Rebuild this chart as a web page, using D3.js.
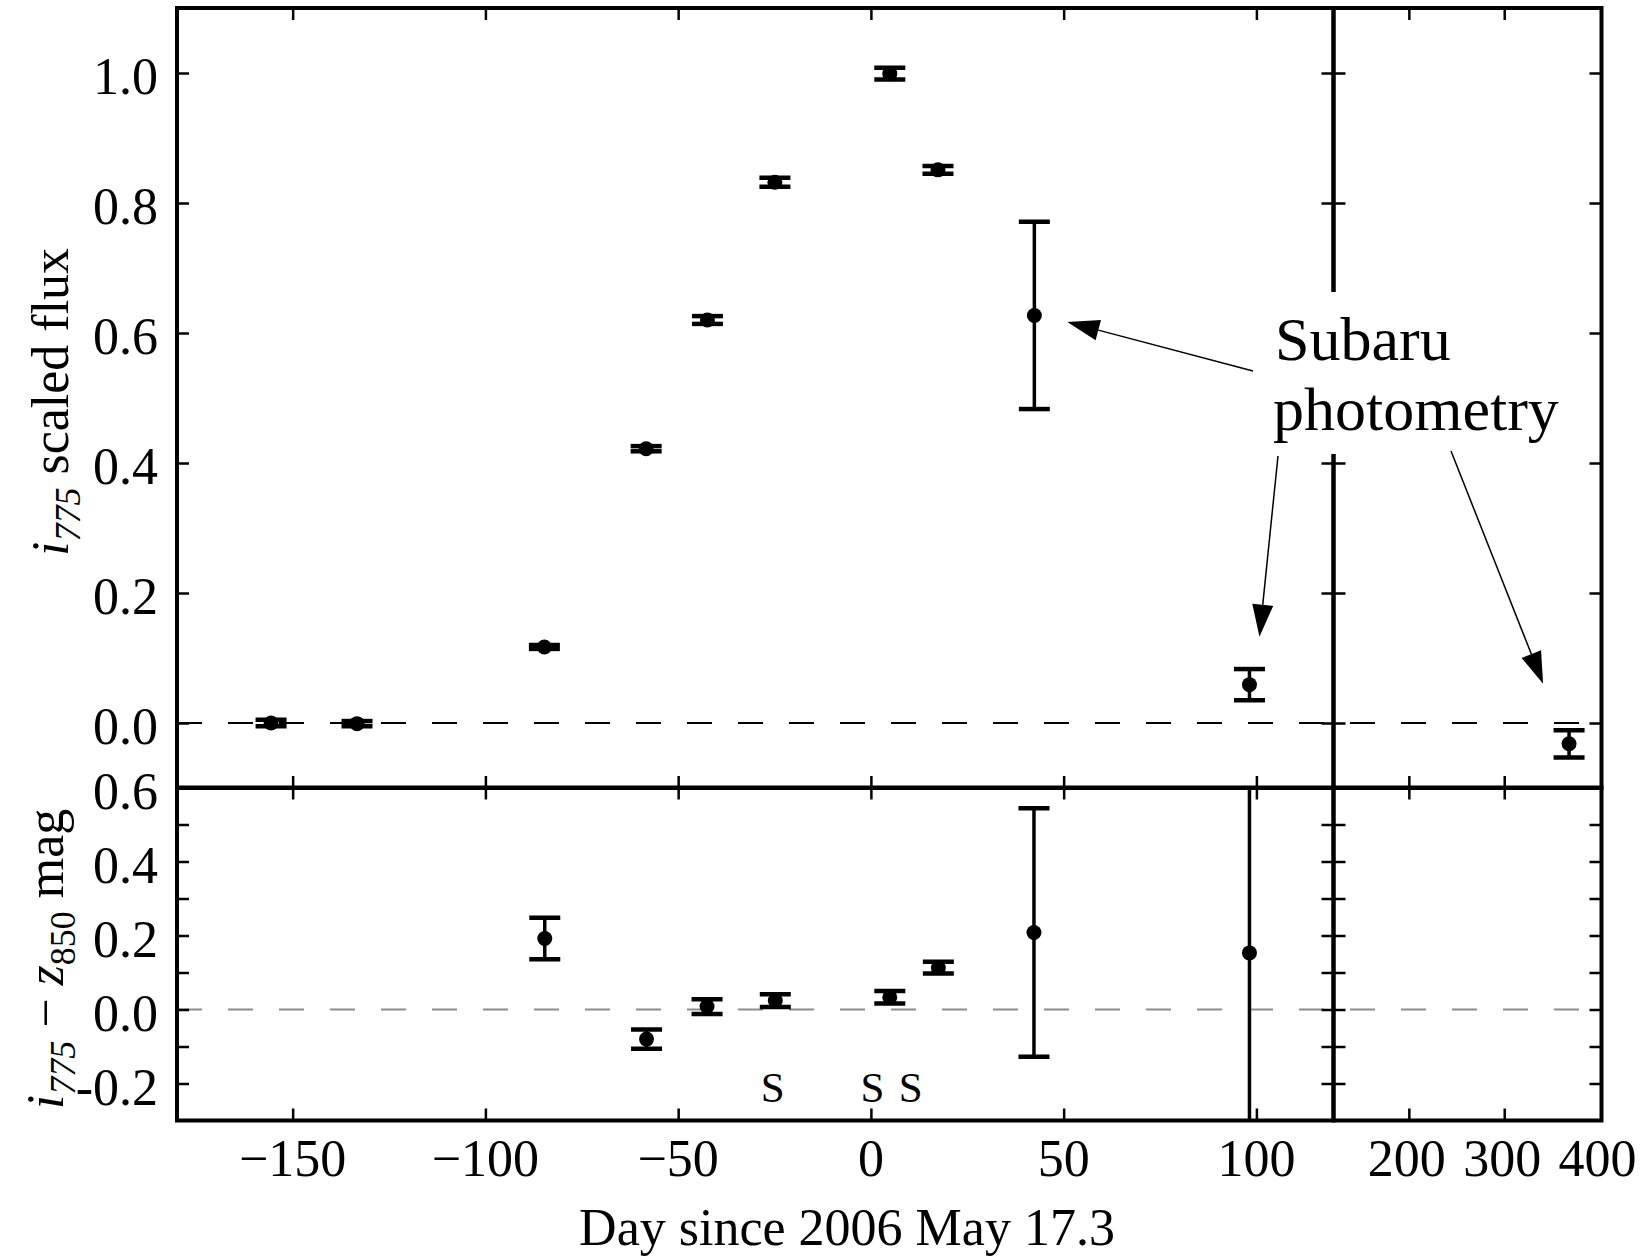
<!DOCTYPE html>
<html><head><meta charset="utf-8">
<script src="https://cdn.jsdelivr.net/npm/d3@7"></script>
<style>body{margin:0;background:#fff}</style>
</head><body>
<svg id="c" width="1649" height="1257"></svg>
<script>
// ---------- data ----------
const fluxDays = [-155.6, -133.3, -84.7, -58.3, -42.4, -24.9, 4.9, 17.4, 42.4, 98.2];
const fluxVals = [0.000, -0.001, 0.117, 0.422, 0.620, 0.832, 0.999, 0.851, 0.627, 0.059];
const fluxErrs = [0.005, 0.004, 0.003, 0.004, 0.006, 0.007, 0.009, 0.006, 0.144, 0.024];
const lateDays = [368];
const lateVals = [-0.032];
const lateErrs = [0.021];
const colorDays = [-84.6, -58.2, -42.5, -24.8, 4.9, 17.5, 42.3, 98.2];
const colorVals = [0.192, -0.080, 0.008, 0.024, 0.033, 0.113, 0.208, 0.153];
const colorErrs = [0.056, 0.026, 0.020, 0.017, 0.017, 0.016, 0.336, 1.0];
const specDays = [-25.5, 0.4, 10.3];
const specLabel = "S";
const xTicksLeft = [-150, -100, -50, 0, 50, 100];
const xTicksRight = [200, 300, 400];
const fluxTicks = [0, 0.2, 0.4, 0.6, 0.8, 1.0];
const colorTicks = [-0.2, 0, 0.2, 0.4, 0.6];
const colorMinorTicks = [-0.2, -0.1, 0, 0.1, 0.2, 0.3, 0.4, 0.5];
const annotText = ["Subaru", "photometry"];
const xTitle = "Day since 2006 May 17.3";

// ---------- layout ----------
const FONT = "'Liberation Serif','Times New Roman',serif";
const svg = d3.select("#c");
const xL = d3.scaleLinear().domain([-180, 120]).range([177, 1333.5]);
const xR = d3.scaleLinear().domain([121, 402]).range([1333.5, 1601.5]);
const yT = d3.scaleLinear().domain([-0.1, 1.1]).range([788, 8]);
const yB = d3.scaleLinear().domain([-0.3, 0.6]).range([1120.5, 787.5]);

const panels = [
  {id: "tl", x: xL, y: yT},
  {id: "tr", x: xR, y: yT},
  {id: "bl", x: xL, y: yB},
  {id: "br", x: xR, y: yB}
];
const defs = svg.append("defs");
panels.forEach(p => {
  const [x0, x1] = p.x.range(), [y0, y1] = p.y.range();
  defs.append("clipPath").attr("id", "clip-" + p.id).append("rect")
    .attr("x", x0).attr("y", y1).attr("width", x1 - x0).attr("height", y0 - y1);
});

// dashed zero lines
svg.append("line").attr("x1", xL.range()[0]).attr("x2", xR.range()[1])
  .attr("y1", yT(0)).attr("y2", yT(0))
  .attr("stroke", "#000").attr("stroke-width", 2).attr("stroke-dasharray", "25,26");
svg.append("line").attr("x1", xL.range()[0]).attr("x2", xR.range()[1])
  .attr("y1", yB(0)).attr("y2", yB(0))
  .attr("stroke", "#8c8c8c").attr("stroke-width", 2).attr("stroke-dasharray", "25,26");

// error bar points
function errPoints(panelId, xs, ys, days, vals, errs) {
  const g = svg.append("g").attr("clip-path", `url(#clip-${panelId})`);
  const data = days.map((d, i) => ({d, v: vals[i], e: errs[i]}));
  const pt = g.selectAll("g.pt").data(data).join("g").attr("class", "pt");
  pt.append("line").attr("x1", d => xs(d.d)).attr("x2", d => xs(d.d))
    .attr("y1", d => ys(d.v - d.e)).attr("y2", d => ys(d.v + d.e))
    .attr("stroke", "#000").attr("stroke-width", 3.5);
  [-1, 1].forEach(s => {
    pt.append("line").attr("x1", d => xs(d.d) - 15.5).attr("x2", d => xs(d.d) + 15.5)
      .attr("y1", d => ys(d.v + s * d.e)).attr("y2", d => ys(d.v + s * d.e))
      .attr("stroke", "#000").attr("stroke-width", 4.5);
  });
  pt.append("circle").attr("cx", d => xs(d.d)).attr("cy", d => ys(d.v)).attr("r", 7.5).attr("fill", "#000");
}
errPoints("tl", xL, yT, fluxDays, fluxVals, fluxErrs);
errPoints("tr", xR, yT, lateDays, lateVals, lateErrs);
errPoints("bl", xL, yB, colorDays, colorVals, colorErrs);

// S markers
svg.append("g").selectAll("text").data(specDays).join("text")
  .attr("x", d => xL(d)).attr("y", yB(-0.3) - 19)
  .attr("text-anchor", "middle").attr("font-family", FONT).attr("font-size", 43)
  .text(specLabel);

// frames + ticks
function tickAxis(axisFn, scale, vals, transform) {
  const g = svg.append("g").attr("transform", transform)
    .call(axisFn(scale).tickValues(vals).tickSize(-12).tickFormat(""));
  g.select(".domain").remove();
  g.selectAll(".tick line").attr("stroke", "#000").attr("stroke-width", 2.5);
}
panels.forEach(p => {
  const [x0, x1] = p.x.range(), [y0, y1] = p.y.range();
  const xt = p.x === xL ? xTicksLeft : xTicksRight.filter(v => v < 400);
  const yt = p.y === yT ? fluxTicks : colorMinorTicks;
  tickAxis(d3.axisLeft, p.y, yt, `translate(${x0},0)`);
  tickAxis(d3.axisRight, p.y, yt, `translate(${x1},0)`);
  tickAxis(d3.axisTop, p.x, xt, `translate(0,${y1})`);
  tickAxis(d3.axisBottom, p.x, xt, `translate(0,${y0})`);
  svg.append("rect").attr("x", x0).attr("y", y1).attr("width", x1 - x0).attr("height", y0 - y1)
    .attr("fill", "none").attr("stroke", "#000").attr("stroke-width", 4);
});

// tick labels
const lab = svg.append("g").attr("font-family", FONT).attr("font-size", 52).attr("fill", "#000");
lab.selectAll("text.yt").data(fluxTicks).join("text").attr("class", "yt")
  .attr("x", 158).attr("y", d => yT(d) + 21).attr("text-anchor", "end")
  .text(d => d.toFixed(1));
lab.selectAll("text.yb").data(colorTicks).join("text").attr("class", "yb")
  .attr("x", 158).attr("y", d => yB(d) + 21).attr("text-anchor", "end")
  .text(d => d.toFixed(1));
lab.selectAll("text.xl").data(xTicksLeft).join("text").attr("class", "xl")
  .attr("x", d => xL(d)).attr("y", yB(-0.3) + 55.5).attr("text-anchor", "middle")
  .text(d => d3.format("d")(d));
lab.selectAll("text.xr").data(xTicksRight).join("text").attr("class", "xr")
  .attr("x", d => xR(d) - 2).attr("y", yB(-0.3) + 55.5).attr("text-anchor", "middle")
  .text(d => d3.format("d")(d));

// axis titles
lab.append("text").attr("x", 847).attr("y", 1245).attr("text-anchor", "middle").text(xTitle);
const t1 = lab.append("text").attr("transform", "translate(68,402) rotate(-90)").attr("text-anchor", "middle");
t1.append("tspan").attr("font-style", "italic").text("i");
t1.append("tspan").attr("font-style", "italic").attr("font-size", 36).attr("dy", 12).text("775");
t1.append("tspan").attr("dy", -12).text(" scaled flux");
const t2 = lab.append("text").attr("transform", "translate(63,959) rotate(-90)").attr("text-anchor", "middle");
t2.append("tspan").attr("font-style", "italic").text("i");
t2.append("tspan").attr("font-style", "italic").attr("font-size", 36).attr("dy", 12).text("775");
t2.append("tspan").attr("dy", -12).text(" \u2212 ");
t2.append("tspan").attr("font-style", "italic").text("z");
t2.append("tspan").attr("font-size", 36).attr("dy", 12).text("850");
t2.append("tspan").attr("dy", -12).text(" mag");

// annotation
svg.append("rect").attr("x", 1262).attr("y", 292).attr("width", 316).attr("height", 162).attr("fill", "#fff");
const an = svg.append("g").attr("font-family", FONT).attr("font-size", 62);
an.append("text").attr("x", 1275).attr("y", 360).text(annotText[0]);
an.append("text").attr("x", 1273).attr("y", 430).text(annotText[1]);

function arrow(x1, y1, x2, y2) {
  const ang = Math.atan2(y2 - y1, x2 - x1), L = 32, W = 10.5;
  const bx = x2 - L * Math.cos(ang), by = y2 - L * Math.sin(ang);
  svg.append("line").attr("x1", x1).attr("y1", y1).attr("x2", bx).attr("y2", by)
    .attr("stroke", "#000").attr("stroke-width", 1.5);
  const px = -Math.sin(ang) * W, py = Math.cos(ang) * W;
  svg.append("path").attr("d", `M${x2},${y2}L${bx + px},${by + py}L${bx - px},${by - py}Z`).attr("fill", "#000");
}
arrow(1253, 371, xL(fluxDays[8]) + 33, yT(fluxVals[8]) + 6.5);
arrow(1278, 456, xL(fluxDays[9]) + 10, yT(fluxVals[9]) - 48);
arrow(1451, 451, xR(lateDays[0]) - 26, yT(lateVals[0]) - 60);
</script>
</body></html>
